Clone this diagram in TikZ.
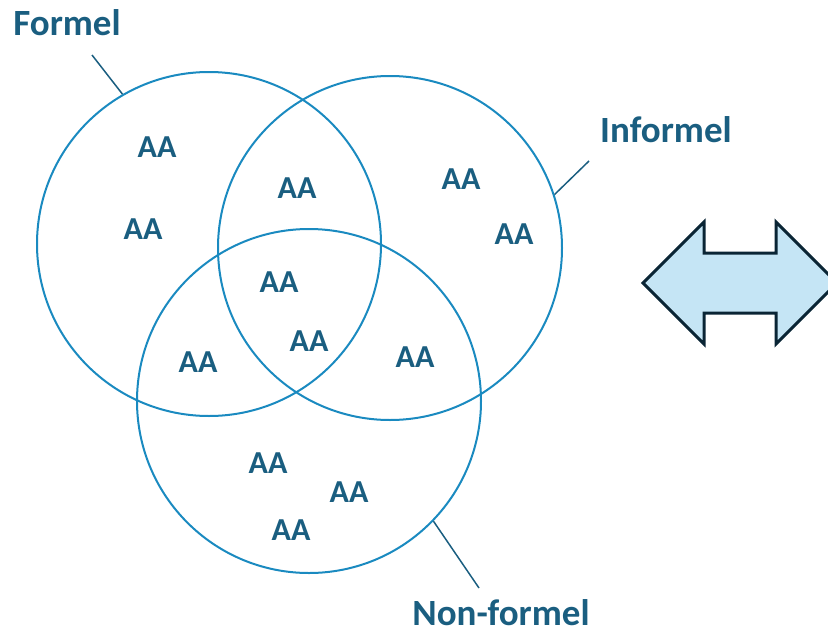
\documentclass[tikz,border=0pt]{standalone}
\usepackage{fontspec}
\setmainfont{Carlito}
\definecolor{txt}{HTML}{1A5E80}
\definecolor{ring}{HTML}{1A8AC0}
\definecolor{afill}{HTML}{C5E5F5}
\definecolor{aline}{HTML}{0A2535}
\begin{document}
\begin{tikzpicture}[x=1pt,y=-1pt,
  ringnode/.style={circle,draw=ring,line width=2pt,minimum size=344pt,inner sep=0pt},
  aa/.style={text=txt,font=\bfseries\fontsize{32}{36}\selectfont,inner sep=0pt},
  lbl/.style={text=txt,font=\bfseries\fontsize{37}{42}\selectfont,inner sep=0pt,anchor=base},
  leader/.style={draw=txt,line width=1.5pt}]
\clip (0,0) rectangle (828,635);
\node[ringnode] (c1) at (209,244) {};
\node[ringnode] (c2) at (390,248) {};
\node[ringnode] (c3) at (309,401) {};
\node[aa] (a1) at (157,147) {AA};
\node[aa] (a2) at (143,229) {AA};
\node[aa] (a3) at (297,188) {AA};
\node[aa] (a4) at (461,179) {AA};
\node[aa] (a5) at (514,234) {AA};
\node[aa] (a6) at (279,282) {AA};
\node[aa] (a7) at (309,341) {AA};
\node[aa] (a8) at (198,362) {AA};
\node[aa] (a9) at (415,357) {AA};
\node[aa] (a10) at (268,463) {AA};
\node[aa] (a11) at (349,492) {AA};
\node[aa] (a12) at (291,530) {AA};
\node[lbl] (lf) at (67,35) {Formel};
\node[lbl] (li) at (666,142) {Informel};
\node[lbl] (ln) at (501,625) {Non-formel};
\coordinate (pf) at (92,55);
\coordinate (pi) at (589,161);
\coordinate (pn) at (479,588);
\draw[leader] (pf) -- (c1.120);
\draw[leader] (pi) -- (c2.18);
\draw[leader] (pn) -- (c3.-44);
\draw[fill=afill,draw=aline,line width=3pt,line join=miter]
  (643,283) -- (704,222) -- (704,253) -- (776,253) -- (776,222) -- (837,283)
  -- (776,344) -- (776,313) -- (704,313) -- (704,344) -- cycle;
\end{tikzpicture}
\end{document}
